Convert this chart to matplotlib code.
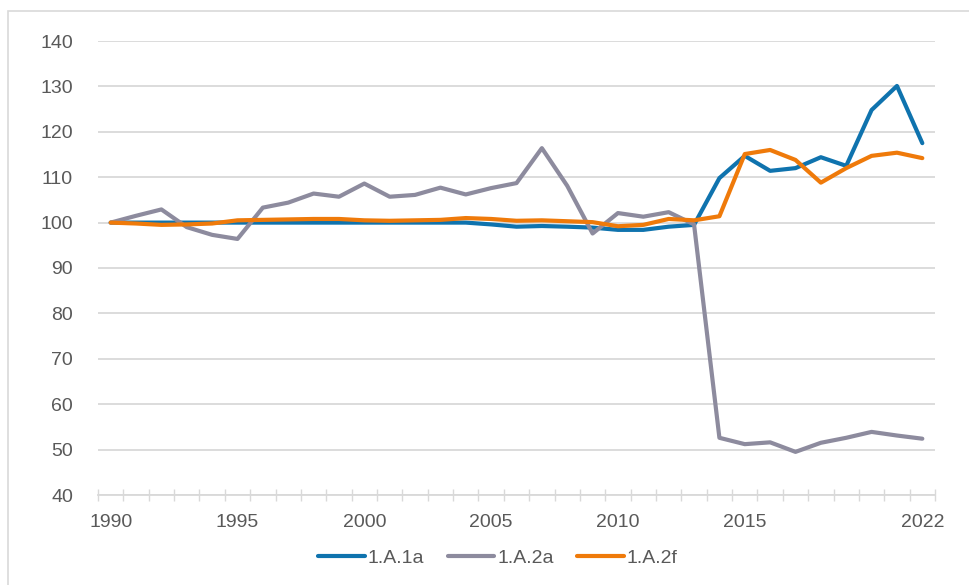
import numpy as np
import matplotlib.pyplot as plt
from matplotlib.patches import Rectangle

plt.rcParams['font.family'] = ['Liberation Sans', 'DejaVu Sans']

years = np.arange(1990, 2023)

a1a = [100.0, 100.0, 100.0, 100.0, 100.0, 100.0, 100.0, 100.0, 100.0, 100.0,
       100.0, 100.0, 100.0, 100.0, 100.0, 99.6, 99.1, 99.25, 99.1, 98.9,
       98.4, 98.4, 99.1, 99.5, 109.8, 114.7, 111.4, 112.0, 114.4, 112.5,
       124.8, 130.1, 117.5]
a2a = [100.0, 101.5, 102.9, 99.0, 97.3, 96.4, 103.3, 104.4, 106.4, 105.7,
       108.6, 105.7, 106.1, 107.7, 106.2, 107.6, 108.7, 116.4, 108.1, 97.6,
       102.1, 101.3, 102.3, 99.6, 52.6, 51.2, 51.6, 49.5, 51.5, 52.6,
       53.9, 53.1, 52.4]
a2f = [100.0, 99.8, 99.5, 99.6, 99.8, 100.5, 100.6, 100.7, 100.8, 100.8,
       100.5, 100.4, 100.5, 100.6, 101.0, 100.8, 100.4, 100.5, 100.3, 100.1,
       99.2, 99.5, 100.8, 100.5, 101.4, 115.1, 116.0, 113.8, 108.8, 112.0,
       114.7, 115.4, 114.2]

series_names = ['1.A.1a', '1.A.2a', '1.A.2f']
colors = ['#0F73AE', '#8D8B9E', '#EF7A0A']
label_years = [1990, 1995, 2000, 2005, 2010, 2015, 2022]

fig = plt.figure(figsize=(9.69, 5.85), dpi=100)
ax = fig.add_axes([98 / 969, 1 - 495 / 585, (935 - 98) / 969, (495 - 41) / 585])

for vals, name, c in zip([a1a, a2a, a2f], series_names, colors):
    ax.plot(years, vals, color=c, linewidth=3, label=name, solid_capstyle='round')

ax.set_xlim(1989.5, 2022.5)
ax.set_ylim(40, 140)
ax.set_yticks(np.arange(40, 141, 10))
ax.grid(axis='y', color='#D9D9D9', linewidth=1.3)
ax.set_axisbelow(True)

ax.set_xticks(label_years)
ax.set_xticklabels([str(y) for y in label_years])
ax.set_xticks(np.arange(1989.5, 2023, 1), minor=True)
ax.tick_params(axis='x', which='major', length=0, pad=14, labelsize=14, labelcolor='#595959')
ax.tick_params(axis='x', which='minor', direction='inout', length=8, width=1, color='#D9D9D9')
ax.tick_params(axis='y', length=0, pad=18, labelsize=14, labelcolor='#595959')

for s in ['left', 'right', 'top']:
    ax.spines[s].set_visible(False)
ax.spines['bottom'].set_color('#D9D9D9')
ax.spines['bottom'].set_linewidth(1.3)

fig.legend(loc='center', bbox_to_anchor=(498 / 969, 1 - 558 / 585), ncol=3,
           frameon=False, fontsize=14, labelcolor='#595959',
           handlelength=2.4, handletextpad=0.15, columnspacing=1.2)

fig.patches.append(Rectangle((8 / 969, -0.1), 1.2, 1.1 - 11 / 585 + 0.0,
                             transform=fig.transFigure, fill=False,
                             edgecolor='#D9D9D9', linewidth=1.2))

fig.savefig('out.png', dpi=100)
